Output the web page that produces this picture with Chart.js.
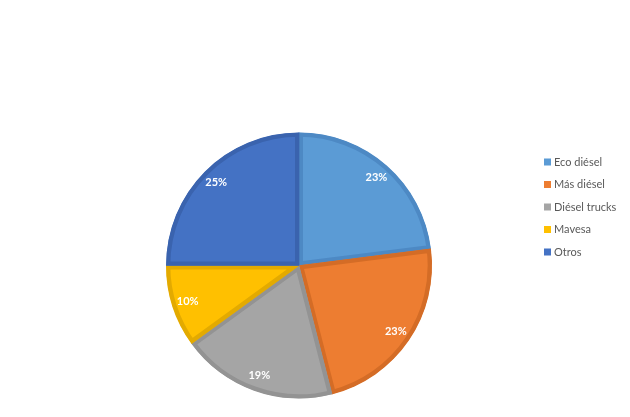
<!DOCTYPE html>
<html>
<head>
<meta charset="utf-8">
<script src="https://cdn.jsdelivr.net/npm/chart.js@4"></script>
<style>
  html, body { margin: 0; padding: 0; background: #fff; }
  #wrap { width: 630px; height: 417px; }
</style>
</head>
<body>
<div id="wrap"><canvas id="chart" width="630" height="417"></canvas></div>
<script>
var categories = ["Eco diésel", "Más diésel", "Diésel trucks", "Mavesa", "Otros"];
var shares = [23, 23, 19, 10, 25];

var fills = ["#5B9BD5", "#ED7D31", "#A5A5A5", "#FFC000", "#4472C4"];
var edges = ["#4D89C4", "#D46C26", "#939393", "#E3AA00", "#3A63AE"];

// percent labels inside each slice
var sliceLabels = {
  id: "sliceLabels",
  afterDatasetsDraw(chart) {
    var ctx = chart.ctx;
    var meta = chart.getDatasetMeta(0);
    ctx.save();
    ctx.font = "bold 11px Lato, 'Open Sans', sans-serif";
    ctx.fillStyle = "#ffffff";
    ctx.textAlign = "center";
    ctx.textBaseline = "middle";
    meta.data.forEach(function (arc, i) {
      var p = arc.getProps(["x", "y", "startAngle", "endAngle", "outerRadius"], true);
      var mid = (p.startAngle + p.endAngle) / 2;
      var r = p.outerRadius * 0.88;
      ctx.fillText(shares[i] + "%", p.x + Math.cos(mid) * r, p.y + Math.sin(mid) * r);
    });
    ctx.restore();
  }
};

// legend on the right
var sideLegend = {
  id: "sideLegend",
  afterDraw(chart) {
    var ctx = chart.ctx;
    ctx.save();
    ctx.font = "11px Lato, 'Open Sans', sans-serif";
    ctx.textBaseline = "middle";
    ctx.textAlign = "left";
    categories.forEach(function (name, i) {
      var y = 162 + i * 22.5;
      ctx.fillStyle = fills[i];
      ctx.fillRect(544, y - 3.5, 7, 7);
      ctx.fillStyle = "#595959";
      ctx.fillText(name, 554, y);
    });
    ctx.restore();
  }
};

new Chart(document.getElementById("chart").getContext("2d"), {
  type: "pie",
  data: {
    labels: categories,
    datasets: [{
      data: shares,
      backgroundColor: fills,
      borderColor: edges,
      borderWidth: 4,
      borderAlign: "inner"
    }]
  },
  options: {
    responsive: false,
    animation: false,
    layout: { padding: { top: 132, bottom: 18, left: 166, right: 198 } },
    plugins: {
      legend: { display: false },
      tooltip: { enabled: false }
    }
  },
  plugins: [sliceLabels, sideLegend]
});
</script>
</body>
</html>
